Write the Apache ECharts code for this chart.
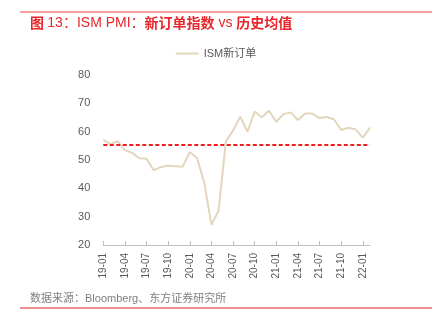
<!DOCTYPE html>
<html><head><meta charset="utf-8">
<script src="https://cdn.jsdelivr.net/npm/echarts@6/dist/echarts.min.js"></script>
<style>html,body{margin:0;padding:0;background:#fff}#c{width:432px;height:324px}</style>
</head><body><div id="c"></div>
<script>
const categories = ['19-01','19-02','19-03','19-04','19-05','19-06','19-07','19-08','19-09','19-10','19-11','19-12',
'20-01','20-02','20-03','20-04','20-05','20-06','20-07','20-08','20-09','20-10','20-11','20-12',
'21-01','21-02','21-03','21-04','21-05','21-06','21-07','21-08','21-09','21-10','21-11','21-12',
'22-01','22-02'];
const newOrders = [57.0,55.6,56.6,53.5,52.5,50.6,50.4,46.4,47.5,48.0,47.8,47.6,
52.8,50.7,42.1,27.1,32.2,56.5,60.4,65.3,60.0,67.1,65.1,67.4,
63.5,66.2,66.8,64.1,66.4,66.4,64.8,65.2,64.4,60.6,61.4,60.8,
57.9,61.4];
const histMean = 55.3;
const yTicks = [20,30,40,50,60,70,80];
const font = '"Liberation Sans","Noto Sans CJK SC",sans-serif';
const cjk = '"Noto Sans CJK SC",sans-serif';
const chart = echarts.init(document.getElementById('c'), null, {renderer:'canvas'});
chart.setOption({
  animation:false,
  textStyle:{fontFamily:font},
  graphic:[
    {type:'line', shape:{x1:20,y1:12,x2:432,y2:12}, style:{stroke:'#e8403f',lineWidth:1}},
    {type:'text', left:30, top:16, style:{
      text:'{b|图} {n|13：ISM PMI：}{b|新订单指数}{n| vs }{b|历史均值}',
      rich:{
        b:{fill:'#e8262b', fontSize:14, fontWeight:'bold', fontFamily:cjk},
        n:{fill:'#e8262b', fontSize:14, fontFamily:font}
      }}},
    {type:'text', left:30, top:293, style:{text:'数据来源：Bloomberg、东方证券研究所', fill:'#808080', font:'11px '+font}},
    {type:'line', shape:{x1:20,y1:308,x2:432,y2:308}, style:{stroke:'#e86a6a',lineWidth:1.5}}
  ],
  legend:{top:43, left:'center', itemWidth:23, itemHeight:2, itemGap:4, icon:'rect',
    textStyle:{color:'#595959', fontSize:11, fontFamily:font}, data:['ISM新订单']},
  grid:{left:103.3, right:62, top:75, bottom:79},
  xAxis:{type:'category', data:categories, boundaryGap:false,
    axisLine:{lineStyle:{color:'#bfbfbf'}},
    axisTick:{inside:true, length:4, interval:2, lineStyle:{color:'#bfbfbf'}},
    axisLabel:{interval:2, rotate:90, color:'#595959', fontSize:10, margin:8, fontFamily:font}},
  yAxis:{type:'value', min:yTicks[0], max:yTicks[yTicks.length-1], interval:10,
    axisLine:{show:false}, axisTick:{show:false}, splitLine:{show:false},
    axisLabel:{color:'#595959', fontSize:11, margin:13, fontFamily:font}},
  series:[{
    name:'ISM新订单', type:'line', data:newOrders, symbol:'none',
    lineStyle:{color:'#e3d6bb', width:2}, itemStyle:{color:'#e3d6bb'},
    markLine:{silent:true, symbol:'none', label:{show:false},
      lineStyle:{color:'#ee1c1c', width:2, type:[4,2.5]},
      data:[{yAxis:histMean}]}
  }]
});
</script></body></html>
